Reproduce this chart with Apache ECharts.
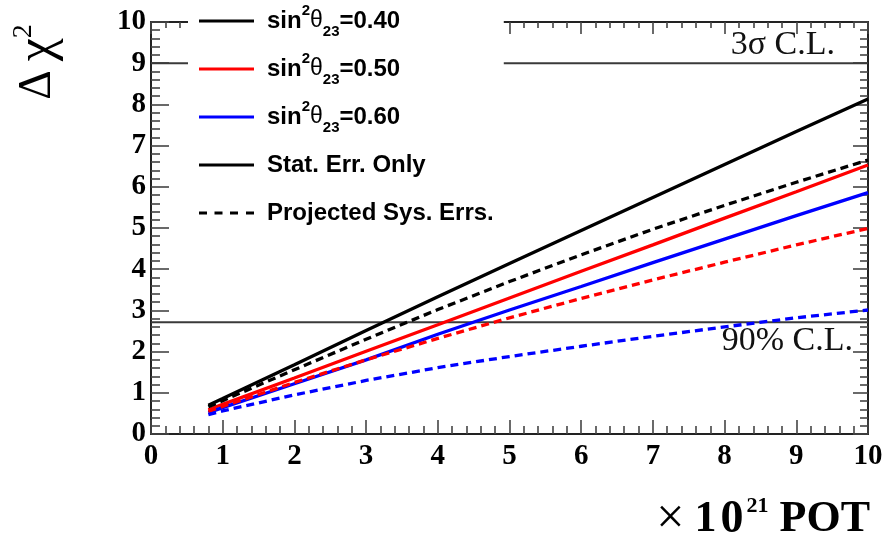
<!DOCTYPE html>
<html><head><meta charset="utf-8">
<script src="https://cdn.jsdelivr.net/npm/echarts@6/dist/echarts.min.js"></script>
<style>html,body{margin:0;padding:0;background:#fff}#c{width:887px;height:542px}</style>
</head><body><div id="c"></div>
<script>
// ---- data ----
const potX    = [0.8, 1, 2, 3, 4, 5, 6, 7, 8, 9, 10];
const stat040 = [0.70, 0.86, 1.68, 2.51, 3.33, 4.14, 4.94, 5.74, 6.54, 7.34, 8.13];
const stat050 = [0.59, 0.72, 1.36, 2.01, 2.65, 3.30, 3.95, 4.59, 5.24, 5.88, 6.53];
const stat060 = [0.52, 0.64, 1.22, 1.80, 2.42, 3.01, 3.58, 4.16, 4.73, 5.30, 5.86];
const sys040  = [0.66, 0.81, 1.56, 2.30, 3.02, 3.70, 4.35, 4.97, 5.55, 6.11, 6.65];
const sys050  = [0.55, 0.67, 1.25, 1.80, 2.32, 2.82, 3.29, 3.74, 4.17, 4.59, 4.99];
const sys060  = [0.47, 0.56, 0.95, 1.30, 1.61, 1.88, 2.13, 2.37, 2.60, 2.82, 3.01];
const clLevels = [9, 2.71];
const clLabels = ['3σ C.L.', '90% C.L.'];
const axisRange = [0, 10];
const legendKeys = ['s40', 's50', 's60', 'stat', 'sys'];
const legendTexts = {
  s40: '{b|sin}{sup|2}{th|θ}{sub|23}{b|=0.40}',
  s50: '{b|sin}{sup|2}{th|θ}{sub|23}{b|=0.50}',
  s60: '{b|sin}{sup|2}{th|θ}{sub|23}{b|=0.60}',
  stat: '{b|Stat. Err. Only}',
  sys: '{b|Projected Sys. Errs.}'
};

const pairs = ys => potX.map((x, i) => [x, ys[i]]);
const DASH = [8, 5];
const dashIcon = 'path://M0,0h8v3h-8zM15.5,0h8v3h-8zM31,0h8v3h-8zM47,0h8v3h-8z';

function lineSeries(name, ys, color, dashed, extra) {
  return Object.assign({
    type: 'line', name: name, data: ys ? pairs(ys) : [],
    symbol: 'none', showSymbol: false, smooth: false,
    color: color,
    lineStyle: { color: color, width: 3.3, type: dashed ? DASH : 'solid' },
    z: 3
  }, extra || {});
}

const serif = 'Liberation Serif';
const sans = 'Liberation Sans';

function mkX(pos, major, minor, labels) {
  return {
    type: 'value', position: pos, min: axisRange[0], max: axisRange[1], interval: 1,
    axisLine: { show: true, onZero: false, lineStyle: { color: '#222', width: 2 } },
    axisTick: { show: true, inside: true, length: major, lineStyle: { color: '#444', width: 1.6 } },
    minorTick: { show: true, splitNumber: 5, length: minor, lineStyle: { color: '#444', width: 1.6 } },
    splitLine: { show: false }, minorSplitLine: { show: false },
    axisLabel: { show: labels, margin: 8, fontFamily: serif, fontWeight: 'bold', fontSize: 29, color: '#000' }
  };
}
function mkY(pos, major, minor, labels) {
  return {
    type: 'value', position: pos, min: axisRange[0], max: axisRange[1], interval: 1,
    axisLine: { show: true, onZero: false, lineStyle: { color: '#222', width: 2 } },
    axisTick: { show: true, inside: true, length: major, lineStyle: { color: '#444', width: 1.6 } },
    minorTick: { show: true, splitNumber: 5, length: minor, lineStyle: { color: '#444', width: 1.6 } },
    splitLine: { show: false }, minorSplitLine: { show: false },
    axisLabel: { show: labels, margin: 5, fontFamily: serif, fontWeight: 'bold', fontSize: 29, color: '#000' }
  };
}

const clLabelStyle = { fontFamily: serif, fontSize: 34, lineHeight: 34, color: '#111', show: true };
const clSeries = clLevels.map((lvl, i) => ({
  type: 'line', name: 'cl' + i, data: [[axisRange[0], lvl], [axisRange[1], lvl]],
  symbol: 'none', silent: true, z: 2,
  lineStyle: { color: '#3a3a3a', width: 2, type: 'solid' },
  markLine: {
    silent: true, symbol: 'none', animation: false,
    lineStyle: { color: 'rgba(0,0,0,0)', width: 1, type: 'solid' },
    data: [{ yAxis: lvl, label: Object.assign({ formatter: clLabels[i],
      position: i === 0 ? 'insideEndTop' : 'insideEndBottom',
      distance: i === 0 ? [33, 1] : [15, 2] }, clLabelStyle) }]
  }
}));

const chart = echarts.init(document.getElementById('c'), null, { renderer: 'canvas' });
chart.setOption({
  animation: false,
  backgroundColor: '#fff',
  grid: { left: 151, right: 19, top: 22, bottom: 108, containLabel: false },
  xAxis: [mkX('bottom', 14, 8, true), mkX('top', 12, 6, false)],
  yAxis: [mkY('left', 18, 9, true), mkY('right', 15, 8, false)],
  legend: {
    orient: 'vertical', left: 188, top: 0,
    padding: [3, 10, 10, 11],
    backgroundColor: '#fff',
    itemWidth: 55, itemHeight: 3, itemGap: 12,
    selectedMode: false,
    data: [
      { name: 's40', icon: 'rect' },
      { name: 's50', icon: 'rect' },
      { name: 's60', icon: 'rect' },
      { name: 'stat', icon: 'rect' },
      { name: 'sys', icon: dashIcon }
    ],
    formatter: n => legendTexts[n],
    textStyle: {
      fontFamily: sans, fontWeight: 'bold', fontSize: 24, lineHeight: 36, color: '#000',
      padding: [0, 0, 0, 8],
      rich: {
        b: { fontFamily: sans, fontWeight: 'bold', fontSize: 24, lineHeight: 36, color: '#000' },
        th: { fontFamily: sans, fontWeight: 'normal', fontSize: 23, lineHeight: 36, color: '#000' },
        sup: { fontFamily: sans, fontWeight: 'bold', fontSize: 15, lineHeight: 31, verticalAlign: 'top', color: '#000' },
        sub: { fontFamily: sans, fontWeight: 'bold', fontSize: 15, lineHeight: 12, verticalAlign: 'bottom', color: '#000' }
      }
    }
  },
  series: clSeries.concat([
    lineSeries('s40', stat040, '#000', false),
    lineSeries('s50', stat050, '#ff0000', false),
    lineSeries('s60', stat060, '#0000ff', false),
    lineSeries('sys40', sys040, '#000', true),
    lineSeries('sys50', sys050, '#ff0000', true),
    lineSeries('sys60', sys060, '#0000ff', true),
    lineSeries('stat', null, '#000', false),
    lineSeries('sys', null, '#000', true)
  ]),
  graphic: [
    {
      type: 'text', x: 38, y: 62, rotation: Math.PI / 2,
      style: {
        text: '{d|Δ}{c|χ}{s|2}', align: 'center', verticalAlign: 'middle', fill: '#000',
        rich: {
          d: { fontFamily: serif, fontSize: 46, lineHeight: 56, fill: '#000' },
          c: { fontFamily: serif, fontSize: 52, lineHeight: 56, padding: [0, 0, 0, 9], fill: '#000' },
          s: { fontFamily: serif, fontSize: 28, lineHeight: 27, verticalAlign: 'top', fill: '#000' }
        }
      }
    },
    {
      type: 'text', x: 870, y: 520,
      style: {
        text: '{t|×}{d1|1}{d0|0}{s|21}{b| POT}', align: 'right', verticalAlign: 'middle', fill: '#000',
        rich: {
          t: { fontFamily: serif, fontSize: 50, lineHeight: 50, padding: [0, 10, 0, 0], fill: '#000' },
          d1: { fontFamily: serif, fontWeight: 'bold', fontSize: 44, lineHeight: 50, padding: [0, 4, 0, 0], fill: '#000' },
          d0: { fontFamily: serif, fontWeight: 'bold', fontSize: 46, lineHeight: 50, padding: [0, 3, 0, 0], fill: '#000' },
          b: { fontFamily: serif, fontWeight: 'bold', fontSize: 44, lineHeight: 50, fill: '#000' },
          s: { fontFamily: serif, fontWeight: 'bold', fontSize: 22, lineHeight: 28, verticalAlign: 'top', fill: '#000' }
        }
      }
    }
  ]
});
</script></body></html>
